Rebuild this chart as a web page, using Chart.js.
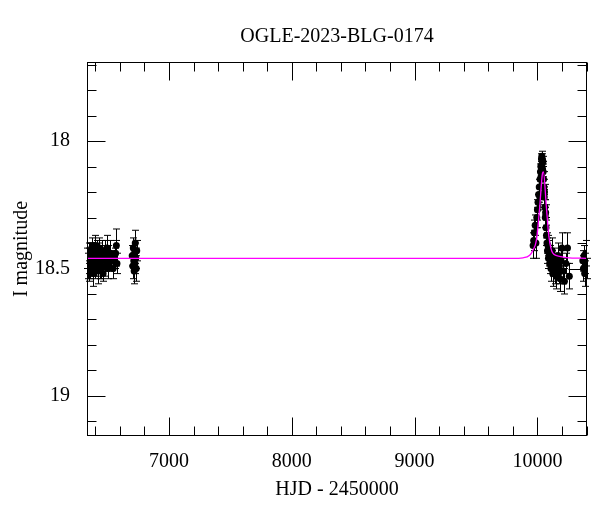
<!DOCTYPE html>
<html>
<head>
<meta charset="utf-8">
<script src="https://cdn.jsdelivr.net/npm/chart.js@4.4.0/dist/chart.umd.min.js"></script>
<style>
html, body { margin: 0; padding: 0; background: #fff; }
</style>
</head>
<body>
<canvas id="lcChart" width="600" height="512"></canvas>
<script>
// OGLE photometry (HJD - 2450000, I mag, error)
var obsTime = [
    6336, 6341, 6345, 6349, 6352, 6356, 6360, 6363, 6367, 6371, 6375, 6378, 6382, 6386, 6390, 6394,
    6398, 6402, 6406, 6410, 6415, 6419, 6423, 6428, 6433, 6437, 6442, 6447, 6452, 6458, 6463, 6469,
    6475, 6481, 6488, 6494, 6500, 6507, 6514, 6522, 6530, 6545, 6556, 6565, 6571, 6576,
    6700, 6705, 6709, 6713, 6716, 6719, 6722, 6725, 6729, 6733, 6737,
    9965, 9970, 9975, 9982, 9988, 9995, 10000, 10005, 10010, 10015, 10020, 10022, 10025, 10028, 10030,
    10033, 10036, 10038, 10040, 10042, 10045, 10047, 10050, 10053, 10056, 10058, 10061, 10064, 10067,
    10070, 10074, 10078, 10082, 10086, 10090, 10095, 10100, 10105, 10110, 10115, 10120, 10125, 10130,
    10136, 10142, 10148, 10154, 10160, 10166, 10172, 10178, 10185, 10192, 10200, 10210, 10220, 10232,
    10245, 10260, 10370, 10375, 10380, 10385, 10390, 10395, 10400
];
var obsMag = [
    18.46, 18.49, 18.44, 18.51, 18.47, 18.43, 18.50, 18.45, 18.48, 18.42, 18.47, 18.52, 18.44, 18.49, 18.46, 18.41,
    18.50, 18.45, 18.48, 18.43, 18.47, 18.51, 18.44, 18.46, 18.42, 18.49, 18.45, 18.50, 18.47, 18.43, 18.52, 18.46,
    18.44, 18.49, 18.47, 18.42, 18.50, 18.45, 18.48, 18.44, 18.47, 18.50, 18.46, 18.44, 18.41, 18.48,
    18.45, 18.49, 18.42, 18.47, 18.51, 18.44, 18.48, 18.40, 18.46, 18.50, 18.43,
    18.41, 18.39, 18.36, 18.33, 18.40, 18.30, 18.27, 18.24, 18.21, 18.18, 18.22, 18.15, 18.12, 18.10, 18.14,
    18.07, 18.06, 18.09, 18.07, 18.11, 18.08, 18.12, 18.15, 18.18, 18.22, 18.20, 18.26, 18.30, 18.28,
    18.34, 18.37, 18.40, 18.43, 18.41, 18.46, 18.44, 18.48, 18.45, 18.50, 18.47, 18.43, 18.52, 18.49,
    18.46, 18.51, 18.48, 18.53, 18.50, 18.45, 18.52, 18.49, 18.54, 18.47, 18.42, 18.51, 18.55, 18.48,
    18.42, 18.53, 18.47, 18.50, 18.45, 18.52, 18.48, 18.44, 18.50
];
var obsErr = [
    0.04, 0.05, 0.04, 0.04, 0.05, 0.03, 0.04, 0.05, 0.04, 0.04, 0.03, 0.05, 0.04, 0.04, 0.05, 0.04,
    0.04, 0.03, 0.05, 0.04, 0.04, 0.05, 0.04, 0.03, 0.04, 0.05, 0.04, 0.04, 0.05, 0.04, 0.03, 0.04,
    0.05, 0.04, 0.04, 0.05, 0.04, 0.04, 0.03, 0.05, 0.04, 0.04, 0.04, 0.05, 0.065, 0.04,
    0.04, 0.05, 0.04, 0.04, 0.05, 0.04, 0.04, 0.05, 0.04, 0.05, 0.04,
    0.05, 0.04, 0.05, 0.04, 0.06, 0.04, 0.04, 0.03, 0.03, 0.03, 0.04, 0.03, 0.03, 0.02, 0.03,
    0.02, 0.02, 0.02, 0.02, 0.03, 0.02, 0.03, 0.03, 0.03, 0.03, 0.03, 0.03, 0.04, 0.03,
    0.04, 0.04, 0.04, 0.05, 0.04, 0.04, 0.05, 0.04, 0.04, 0.05, 0.04, 0.05, 0.05, 0.04,
    0.04, 0.05, 0.04, 0.05, 0.04, 0.05, 0.04, 0.05, 0.05, 0.04, 0.06, 0.05, 0.05, 0.04,
    0.06, 0.05, 0.04, 0.05, 0.04, 0.05, 0.04, 0.05, 0.04
];

// model light curve
var modelTime = [6332, 9800, 9883, 9937, 9964, 9992, 10019, 10041, 10049, 10073, 10094, 10127, 10180, 10236, 10404];
var modelMag  = [18.46, 18.46, 18.458, 18.448, 18.428, 18.389, 18.258, 18.128, 18.121, 18.258, 18.376, 18.441, 18.452, 18.457, 18.46];

var xLabels = [7000, 8000, 9000, 10000];
var yLabels = [18, 18.5, 19];

var serif = "'Liberation Serif', 'DejaVu Serif', serif";

function toPoints(xs, ys) {
    var pts = [];
    for (var i = 0; i < xs.length; i++) pts.push({x: xs[i], y: ys[i]});
    return pts;
}

// error bars under the points
var errorBars = {
    id: 'errorBars',
    beforeDatasetsDraw: function(chart) {
        var ctx = chart.ctx, xs = chart.scales.x, ys = chart.scales.y;
        ctx.save();
        ctx.strokeStyle = '#000';
        ctx.lineWidth = 1;
        ctx.beginPath();
        for (var i = 0; i < obsTime.length; i++) {
            var px = Math.round(xs.getPixelForValue(obsTime[i])) + 0.5;
            var y1 = ys.getPixelForValue(obsMag[i] - obsErr[i]);
            var y2 = ys.getPixelForValue(obsMag[i] + obsErr[i]);
            ctx.moveTo(px, y1); ctx.lineTo(px, y2);
            ctx.moveTo(px - 3.5, y1); ctx.lineTo(px + 3.5, y1);
            ctx.moveTo(px - 3.5, y2); ctx.lineTo(px + 3.5, y2);
        }
        ctx.stroke();
        ctx.restore();
    }
};

// box frame with inward ticks on all sides
var frameTicks = {
    id: 'frameTicks',
    afterDraw: function(chart) {
        var ctx = chart.ctx, a = chart.chartArea, xs = chart.scales.x, ys = chart.scales.y;
        var L = a.left + 0.5, R = a.right - 0.5, T = a.top + 0.5, B = a.bottom - 0.5;
        ctx.save();
        ctx.strokeStyle = '#000';
        ctx.lineWidth = 1;
        ctx.beginPath();
        for (var v = 6400; v <= 10400; v += 200) {
            var len = (v % 1000 === 0) ? 18 : 9;
            var px = Math.round(xs.getPixelForValue(v)) + 0.5;
            ctx.moveTo(px, B); ctx.lineTo(px, B - len);
            ctx.moveTo(px, T); ctx.lineTo(px, T + len);
        }
        for (var k = 177; k <= 191; k++) {
            var m = k / 10;
            var len2 = (k % 5 === 0) ? 18 : 9;
            var py = Math.round(ys.getPixelForValue(m)) + 0.5;
            ctx.moveTo(L, py); ctx.lineTo(L + len2, py);
            ctx.moveTo(R, py); ctx.lineTo(R - len2, py);
        }
        ctx.stroke();
        ctx.strokeRect(L, T, R - L, B - T);
        ctx.restore();
    }
};

var lcChart = new Chart(document.getElementById('lcChart'), {
    type: 'scatter',
    data: {
        datasets: [{
            label: 'model',
            data: toPoints(modelTime, modelMag),
            showLine: true,
            borderColor: '#ff00ff',
            borderWidth: 1.3,
            pointRadius: 0,
            cubicInterpolationMode: 'monotone'
        }, {
            label: 'OGLE',
            data: toPoints(obsTime, obsMag),
            pointRadius: 3.5,
            backgroundColor: '#000',
            borderColor: '#000',
            borderWidth: 0
        }]
    },
    options: {
        responsive: false,
        animation: false,
        layout: { padding: { left: 0, right: 13, top: 0, bottom: 0 } },
        plugins: {
            legend: { display: false },
            tooltip: { enabled: false },
            title: {
                display: true,
                text: 'OGLE-2023-BLG-0174',
                color: '#000',
                fullSize: false,
                font: { family: serif, size: 20, weight: 'normal' },
                padding: { top: 25, bottom: 13 }
            }
        },
        scales: {
            x: {
                type: 'linear',
                min: 6332,
                max: 10404,
                grid: { display: false },
                border: { display: false },
                afterBuildTicks: function(s) { s.ticks = xLabels.map(function(v) { return {value: v}; }); },
                afterFit: function(s) { s.height = 76; },
                ticks: {
                    color: '#000', padding: 6, font: { family: serif, size: 20 }, maxRotation: 0,
                    callback: function(v) { return String(v); }
                },
                title: {
                    display: true, text: 'HJD - 2450000', color: '#000',
                    font: { family: serif, size: 20 }, padding: { top: 0, bottom: 10 }
                }
            },
            y: {
                type: 'linear',
                reverse: true,
                min: 17.69,
                max: 19.157,
                grid: { display: false },
                border: { display: false },
                afterBuildTicks: function(s) { s.ticks = yLabels.map(function(v) { return {value: v}; }); },
                afterFit: function(s) { s.width = 87; },
                ticks: {
                    color: '#000', padding: 9, font: { family: serif, size: 20 },
                    callback: function(v) { return String(v); }
                },
                title: {
                    display: true, text: 'I magnitude', color: '#000',
                    font: { family: serif, size: 20 }, padding: { top: 10, bottom: 0 }
                }
            }
        }
    },
    plugins: [errorBars, frameTicks]
});
</script>
</body>
</html>
